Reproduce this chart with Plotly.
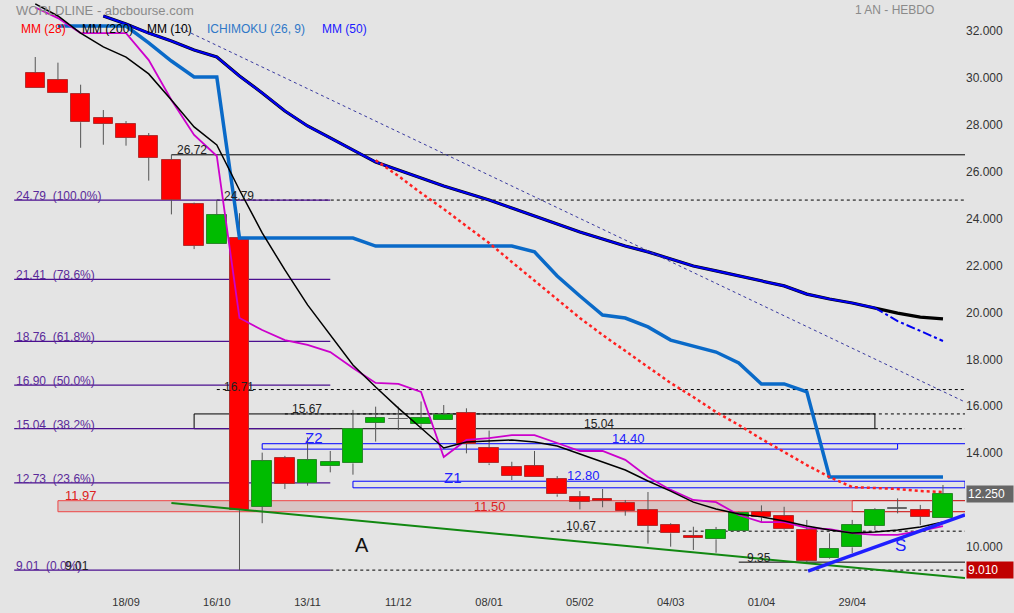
import plotly.graph_objects as go

# ---------------- data ----------------
dates = ["2023-08-21", "2023-08-28", "2023-09-04", "2023-09-11", "2023-09-18", "2023-09-25",
         "2023-10-02", "2023-10-09", "2023-10-16", "2023-10-23", "2023-10-30", "2023-11-06",
         "2023-11-13", "2023-11-20", "2023-11-27", "2023-12-04", "2023-12-11", "2023-12-18",
         "2023-12-25", "2024-01-01", "2024-01-08", "2024-01-15", "2024-01-22", "2024-01-29",
         "2024-02-05", "2024-02-12", "2024-02-19", "2024-02-26", "2024-03-04", "2024-03-11",
         "2024-03-18", "2024-03-25", "2024-04-01", "2024-04-08", "2024-04-15", "2024-04-22",
         "2024-04-29", "2024-05-06", "2024-05-13", "2024-05-20", "2024-05-27"]

opens = [30.21, 29.91, 29.31, 28.29, 28.03, 27.52, 26.50, 24.61, 22.90, 23.16,
         11.71, 13.78, 12.74, 13.44, 13.56, 15.30, 15.44, 15.23, 15.41, 15.70,
         14.20, 13.39, 13.45, 12.88, 12.14, 12.06, 11.86, 11.57, 10.93, 10.46,
         10.32, 10.69, 11.48, 11.32, 10.72, 9.54, 9.98, 10.89, 11.62, 11.57, 11.25]
highs = [30.89, 30.65, 29.71, 28.63, 28.16, 27.65, 26.72, 24.68, 24.79, 24.23,
         14.02, 13.88, 14.67, 14.09, 15.84, 15.98, 15.98, 16.20, 16.05, 15.91,
         14.96, 13.63, 14.09, 13.02, 12.38, 12.47, 12.00, 12.34, 11.01, 10.86,
         10.85, 11.50, 11.77, 11.71, 11.15, 10.58, 11.15, 11.65, 12.07, 11.79, 12.64]
lows = [29.57, 29.37, 27.02, 27.15, 27.11, 25.62, 24.18, 22.70, 22.90, 9.01,
        11.01, 12.47, 12.61, 13.18, 13.08, 14.49, 14.99, 14.99, 15.41, 13.99,
        13.49, 12.85, 13.00, 12.14, 11.60, 11.69, 11.33, 10.14, 10.01, 9.87,
        9.75, 10.65, 11.03, 10.70, 9.35, 9.50, 9.73, 10.72, 11.43, 10.93, 11.25]
closes = [29.57, 29.37, 28.11, 28.05, 27.45, 26.60, 24.81, 22.84, 24.15, 11.57,
          13.66, 12.70, 13.69, 13.61, 15.01, 15.48, 15.46, 15.48, 15.62, 14.39,
          13.56, 13.04, 13.00, 12.24, 11.93, 11.97, 11.54, 10.90, 10.58, 10.37,
          10.72, 11.43, 11.26, 10.75, 9.41, 9.91, 10.93, 11.57, 11.64, 11.29, 12.25]

mm10 = [33.16, 32.64, 31.91, 31.32, 30.89, 30.17, 29.06, 27.91, 27.14, 25.22,
        23.39, 21.81, 20.32, 19.04, 17.76, 16.82, 15.92, 15.07, 14.22, 14.47,
        14.52, 14.56, 14.47, 14.30, 13.96, 13.62, 13.28, 12.81, 12.38, 11.91,
        11.62, 11.40, 11.28, 11.10, 10.89, 10.72, 10.59, 10.64, 10.72, 10.85, 11.06]
mm_short = [33.00, 32.55, 31.91, 31.91, 31.91, 30.76, 29.06, 27.57, 26.67, 19.76,
            19.25, 18.82, 18.61, 18.31, 17.63, 16.99, 16.95, 16.61, 13.83, 14.56,
            14.64, 14.77, 14.77, 14.43, 14.09, 14.09, 13.71, 12.98, 12.43, 12.00,
            11.91, 11.36, 11.06, 11.06, 10.81, 10.76, 10.59, 10.51, 10.51, 10.68, 10.89]
ichimoku = [None, 32.21, 32.21, 32.21, 32.21, 31.49, 30.72, 30.04, 30.04, 23.17,
            23.17, 23.17, 23.17, 23.17, 23.17, 22.83, 22.83, 22.83, 22.83, 22.83,
            22.83, 22.83, 22.58, 21.55, 20.70, 19.89, 19.76, 19.38, 18.82, 18.57,
            18.31, 17.84, 16.95, 16.95, 16.61, 12.98, 12.98, 12.98, 12.98, 12.98, 12.98]
mm200 = [None, None, None, 32.64, 32.30, 31.91, 31.57, 31.19, 30.89, 30.08,
         29.36, 28.59, 27.95, 27.44, 26.93, 26.41, 26.07, 25.73, 25.39, 25.09,
         24.79, 24.45, 24.11, 23.77, 23.43, 23.13, 22.83, 22.58, 22.28, 21.98,
         21.77, 21.55, 21.34, 21.13, 20.78, 20.57, 20.40, 20.19, 19.97, 19.80, 19.72]
mm50 = [None, None, None, 32.64, 32.30, 31.91, 31.57, 31.19, 30.89, 30.08,
        29.36, 28.59, 27.95, 27.44, 26.93, 26.41, 26.07, 25.73, 25.39, 25.09,
        24.79, 24.45, 24.11, 23.77, 23.43, 23.13, 22.83, 22.58, 22.28, 21.98,
        21.77, 21.55, 21.34, 21.13, 20.78, 20.57, 20.40, 20.19, 19.63, 19.21, 18.78]
mm28 = [None] * 15 + [26.49, 25.82, 25.09, 24.41, 23.68, 22.96, 22.15, 21.34, 20.57, 19.76,
                      19.04, 18.35, 17.67, 16.99, 16.39, 15.75, 15.20, 14.60, 14.05, 13.49,
                      12.98, 12.55, 12.51, 12.47, 12.38, 12.34]

# trend lines (start/end)
trend_resist_x = ["2023-10-04 17:00", "2024-06-02 19:00"]
trend_resist_y = [32.13, 16.18]
trend_green_x = ["2023-10-02", "2024-06-02 19:00"]
trend_green_y = [11.87, 8.67]
trend_support_x = ["2024-04-15 09:00", "2024-06-02 19:00"]
trend_support_y = [8.97, 11.36]

fib_values = [24.79, 21.41, 18.76, 16.90, 15.04, 12.73, 9.01]
fib_pcts = ["100.0%", "78.6%", "61.8%", "50.0%", "38.2%", "23.6%", "0.0%"]

tick_dates = ["2023-09-18", "2023-10-16", "2023-11-13", "2023-12-11", "2024-01-08",
              "2024-02-05", "2024-03-04", "2024-04-01", "2024-04-29"]
tick_labels = ["18/09", "16/10", "13/11", "11/12", "08/01", "05/02", "04/03", "01/04", "29/04"]
y_ticks = [10, 14, 16, 18, 20, 22, 24, 26, 28, 30, 32]
last_price = 12.25
low_price = 9.01

X_START = "2023-08-10 03:00"
X_END = "2024-06-02 19:00"
FONT = "Arial, Liberation Sans, sans-serif"
BG = "#e4e4e4"

fig = go.Figure()

# ---------------- candles ----------------
wx, wy = [], []
for d, o, h, l, c in zip(dates, opens, highs, lows, closes):
    top, bot = max(o, c), min(o, c)
    if h > top:
        wx += [d, d, None]; wy += [top, h, None]
    if l < bot:
        wx += [d, d, None]; wy += [l, bot, None]
fig.add_trace(go.Scatter(x=wx, y=wy, mode="lines", line=dict(color="#555555", width=1),
                         hoverinfo="skip", showlegend=False))

body_h, body_b, fills, edges = [], [], [], []
for o, c in zip(opens, closes):
    body_b.append(min(o, c))
    body_h.append(max(abs(c - o), 0.03))
    if abs(c - o) < 0.05:
        fills.append("#888888"); edges.append("#666666")
    elif c > o:
        fills.append("#00bb00"); edges.append("#2a882a")
    else:
        fills.append("#ff0000"); edges.append("#b03030")
fig.add_trace(go.Bar(x=dates, y=body_h, base=body_b, width=0.86 * 7 * 86400000,
                     marker=dict(color=fills, line=dict(color=edges, width=1)),
                     showlegend=False, hoverinfo="skip"))

# ---------------- indicators ----------------
fig.add_trace(go.Scatter(x=dates, y=mm200, mode="lines", line=dict(color="#000000", width=3.2),
                         showlegend=False, hoverinfo="skip"))
fig.add_trace(go.Scatter(x=dates[:38], y=mm50[:38], mode="lines", line=dict(color="#0000f0", width=2.2),
                         showlegend=False, hoverinfo="skip"))
fig.add_trace(go.Scatter(x=dates[37:], y=mm50[37:], mode="lines",
                         line=dict(color="#0000f0", width=2, dash="dashdot"),
                         showlegend=False, hoverinfo="skip"))
fig.add_trace(go.Scatter(x=trend_resist_x, y=trend_resist_y, mode="lines",
                         line=dict(color="#3a3aa0", width=1, dash="dot"),
                         showlegend=False, hoverinfo="skip"))
fig.add_trace(go.Scatter(x=dates, y=ichimoku, mode="lines", line=dict(color="#0a6ac8", width=3.5),
                         showlegend=False, hoverinfo="skip"))
fig.add_trace(go.Scatter(x=dates, y=mm28, mode="lines", line=dict(color="#ff2020", width=2.5, dash="dot"),
                         showlegend=False, hoverinfo="skip"))
fig.add_trace(go.Scatter(x=trend_green_x, y=trend_green_y, mode="lines",
                         line=dict(color="#118811", width=2), showlegend=False, hoverinfo="skip"))
fig.add_trace(go.Scatter(x=dates, y=mm_short, mode="lines", line=dict(color="#cc00cc", width=1.8),
                         showlegend=False, hoverinfo="skip"))
fig.add_trace(go.Scatter(x=dates, y=mm10, mode="lines", line=dict(color="#000000", width=1.5),
                         showlegend=False, hoverinfo="skip"))
fig.add_trace(go.Scatter(x=trend_support_x, y=trend_support_y, mode="lines",
                         line=dict(color="#1f1fff", width=3.5), showlegend=False, hoverinfo="skip"))

# ---------------- shapes ----------------
shapes = []
def hline(y, x0, x1=X_END, color="#000000", dash="solid", width=1):
    shapes.append(dict(type="line", xref="x", yref="y", x0=x0, x1=x1, y0=y, y1=y,
                       line=dict(color=color, width=width, dash=dash), layer="below"))

def rect(x0, x1, y0, y1, color, fill="rgba(0,0,0,0)", width=1):
    shapes.append(dict(type="rect", xref="x", yref="y", x0=x0, x1=x1, y0=y0, y1=y1,
                       line=dict(color=color, width=width), fillcolor=fill, layer="below"))

# red zone
rect("2023-08-28", "2024-04-29", 11.50, 11.97, "#ee4444", fill="#d8c4c4")
hline(11.97, "2024-04-29", color="#cc0000")
hline(11.50, "2024-04-29", color="#cc0000")
# blue zones
rect("2023-10-30", "2024-05-13", 14.17, 14.40, "#0000ff")
hline(14.40, "2024-05-13", color="#0000ff")
rect("2023-11-27", X_END, 12.52, 12.80, "#0000ff")
# black box
rect("2023-10-09", "2024-05-06", 15.04, 15.67, "#000000")
# levels
hline(26.72, "2023-10-02")
hline(9.35, "2024-03-25")
for lv, x0 in [(24.79, "2023-10-16"), (16.71, "2023-10-16"), (15.67, "2023-11-06"),
               (15.04, "2024-05-06"), (10.67, "2024-01-27"), (9.01, "2023-11-20")]:
    hline(lv, x0, dash="dot")
for fv in fib_values:
    hline(fv, "2023-08-14 12:00", "2023-11-20", color="#4b0f8f", width=1.3)

fig.update_layout(shapes=shapes)

# ---------------- annotations ----------------
ann = []
def txt(x, y, s, color="#222222", size=12, xanchor="left", yanchor="bottom", xref="x", yref="y", yshift=0):
    ann.append(dict(x=x, y=y, xref=xref, yref=yref, text=s, showarrow=False, xanchor=xanchor,
                    yanchor=yanchor, yshift=yshift, font=dict(family=FONT, size=size, color=color)))

for fv, fp in zip(fib_values, fib_pcts):
    txt("2023-08-14 12:00", fv, f"{fv:.2f} \u00a0({fp})", color="#5a2a9a", yshift=-5)

txt("2023-10-03", 26.72, "26.72", yshift=-4)
txt("2023-10-17 14:00", 24.79, "24.79", yshift=-5)
txt("2023-10-17 14:00", 16.71, "16.71", yshift=-6)
txt("2023-11-07 14:00", 15.67, "15.67", yshift=-4)
txt("2024-02-11", 15.04, "15.04", xanchor="center", yshift=-4)
txt("2024-02-20", 14.40, "14.40", color="#2020ff", size=13, xanchor="center", yshift=-4)
txt("2024-02-06", 12.80, "12.80", color="#2020ff", size=13, xanchor="center", yshift=-4)
txt("2023-08-29 14:00", 11.97, "11.97", color="#dd2222", size=13, yshift=-4)
txt("2024-01-08 10:00", 11.72, "11.50", color="#dd2222", size=13, xanchor="center", yanchor="middle")
txt("2024-01-31", 10.67, "10.67", yshift=-4)
txt("2024-03-27", 9.35, "9.35", yshift=-5)
txt("2023-08-29 14:00", 9.01, "9.01", yshift=-5)
txt("2023-11-15", 14.40, "Z2", color="#2020ff", size=15, xanchor="center", yshift=-4)
txt("2023-12-28", 12.94, "Z1", color="#2020ff", size=15, xanchor="center", yanchor="middle")
txt("2023-11-29 19:00", 10.08, "A", color="#111111", size=20, xanchor="center", yanchor="middle")
txt("2024-05-14", 10.07, "S", color="#2020ff", size=17, xanchor="center", yanchor="middle")

# title / legend
txt(14 / 965, 1 - 10 / 588, "WORLDLINE - abcbourse.com", color="#8a8a8a", size=13,
    yanchor="middle", xref="paper", yref="paper")
txt(936 / 965, 1 - 10 / 588, "1 AN - HEBDO", color="#8a8a8a", size=12, xanchor="right",
    yanchor="middle", xref="paper", yref="paper")
for xp, s, col in [(19, "MM (28)", "#ff0000"), (80, "MM (200)", "#000000"), (145, "MM (10)", "#000000"),
                   (205, "ICHIMOKU (26, 9)", "#2f78c8"), (320, "MM (50)", "#1a1aff")]:
    txt(xp / 965, 1 - 29 / 588, s, color=col, size=12, yanchor="middle", xref="paper", yref="paper")

# price boxes on axis
for val, bg in [(last_price, "#666666"), (low_price, "#c00000")]:
    ann.append(dict(x=1, y=val, xref="paper", yref="y", text=f"{val:.3f}", showarrow=False,
                    xanchor="left", yanchor="middle", xshift=1, width=44, height=14, align="left",
                    bgcolor=bg, borderpad=1, font=dict(family=FONT, size=12, color="#ffffff")))

fig.update_layout(annotations=ann)

fig.update_layout(
    width=1014, height=613,
    margin=dict(l=0, r=49, t=0, b=25),
    paper_bgcolor=BG, plot_bgcolor=BG,
    bargap=0, showlegend=False,
    font=dict(family=FONT, size=12, color="#333333"),
    xaxis=dict(type="date", range=[X_START, X_END], tickvals=tick_dates, ticktext=tick_labels,
               showgrid=False, zeroline=False, showline=False, ticks="", ticklabelstandoff=6,
               tickfont=dict(size=11, color="#333333"), rangeslider=dict(visible=False)),
    yaxis=dict(side="right", range=[8.247, 33.322], tickvals=y_ticks,
               ticktext=[f"{v:.3f}" for v in y_ticks], showgrid=False, zeroline=False,
               showline=False, ticks="", tickfont=dict(size=12, color="#333333")),
)

fig.write_html("out.html", config={"displayModeBar": False},
               post_script="document.body.style.margin='0';document.body.style.background='#e4e4e4';")
